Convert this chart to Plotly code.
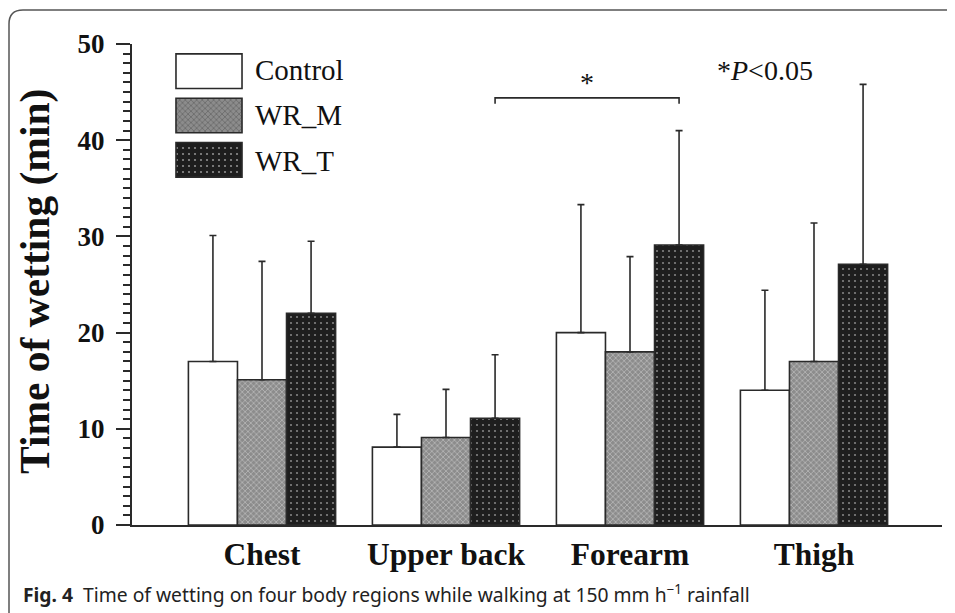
import plotly.graph_objects as go

categories = ["Chest", "Upper back", "Forearm", "Thigh"]
series_names = ["Control", "WR_M", "WR_T"]
control_mean = [17.0, 8.1, 20.0, 14.0]
control_err = [13.1, 3.4, 13.3, 10.4]
wrm_mean = [15.1, 9.1, 18.0, 17.0]
wrm_err = [12.3, 5.0, 9.9, 14.4]
wrt_mean = [22.0, 11.1, 29.1, 27.1]
wrt_err = [7.5, 6.6, 11.9, 18.7]
y_major_ticks = [0, 10, 20, 30, 40, 50]
y_mid_ticks = [5, 15, 25, 35, 45]

SERIF = "Liberation Serif, Times New Roman, serif"
LINE = "#2a2a2a"

styles = {
    "Control": dict(color="white", pattern=None),
    "WR_M": dict(color="#9a9a9a", pattern=dict(shape="x", fgcolor="#e8e8e8", bgcolor="#8c8c8c", size=4, solidity=0.35)),
    "WR_T": dict(color="#1e1e1e", pattern=dict(shape=".", fgcolor="#e6e6e6", bgcolor="#1e1e1e", size=6, solidity=0.1)),
}

xs = list(range(len(categories)))
fig = go.Figure()
for name, mean, err in [("Control", control_mean, control_err),
                        ("WR_M", wrm_mean, wrm_err),
                        ("WR_T", wrt_mean, wrt_err)]:
    st = styles[name]
    marker = dict(color=st["color"], line=dict(color=LINE, width=1.6))
    if st["pattern"]:
        marker["pattern"] = st["pattern"]
    fig.add_trace(go.Bar(
        x=xs, y=mean, name=name, marker=marker, showlegend=False,
        error_y=dict(type="data", symmetric=False, array=err,
                     arrayminus=[0] * len(err), color=LINE, thickness=1.6, width=3.5),
    ))

# Legend swatches (drawn as bars on an auxiliary axis)
fig.add_trace(go.Bar(
    x=[1, 1, 1], y=series_names, orientation="h", width=0.78,
    xaxis="x2", yaxis="y2", showlegend=False, hoverinfo="skip",
    marker=dict(
        color=["white", "#8c8c8c", "#1e1e1e"],
        line=dict(color=LINE, width=1.6),
        pattern=dict(shape=["", "x", "."],
                     fgcolor=["white", "#e8e8e8", "#e6e6e6"],
                     bgcolor=["white", "#8c8c8c", "#1e1e1e"],
                     size=[4, 4, 6], solidity=[0.3, 0.35, 0.1]),
    ),
))

# Plot area on screen: x 132..942 px, y 44..525 px (page body adds an 8px offset)
def px(x):
    return (x - 132) / 810.0

def py(y):
    return (525 - y) / 481.0

annotations = []
legend_y = [70, 115, 161]
for nm, yy in zip(series_names, legend_y):
    annotations.append(dict(xref="paper", yref="paper", x=px(253), y=py(yy), text=nm,
                            showarrow=False, xanchor="left", yanchor="middle",
                            font=dict(family=SERIF, size=29, color="#111")))

# y-axis title
annotations.append(dict(xref="paper", yref="paper", x=px(35), y=py(282),
                        text="<b>Time of wetting (min)</b>", textangle=-90, showarrow=False,
                        xanchor="center", yanchor="middle",
                        font=dict(family=SERIF, size=41.5, color="#111")))

# significance bracket between Upper back WR_T and Forearm WR_T
off = 0.8 / 3
xb0, xb1 = 1 + off, 2 + off
yb, ytick = 44.4, 43.8
shapes = [
    dict(type="path", xref="x", yref="y",
         path=f"M {xb0},{ytick} L {xb0},{yb} L {xb1},{yb} L {xb1},{ytick}",
         line=dict(color=LINE, width=1.6)),
]
annotations.append(dict(xref="x", yref="y", x=(xb0 + xb1) / 2, y=46.0, text="*",
                        showarrow=False, font=dict(family=SERIF, size=28, color="#111")))
annotations.append(dict(xref="paper", yref="paper", x=px(715), y=py(70),
                        text="*<i>P</i>&lt;0.05", showarrow=False, xanchor="left",
                        yanchor="middle", font=dict(family=SERIF, size=28, color="#111")))

# Figure caption
annotations.append(dict(xref="paper", yref="paper", x=px(21), y=py(594),
                        text="<b>Fig. 4</b>  Time of wetting on four body regions while walking at 150 mm h<sup>\u22121</sup> rainfall",
                        showarrow=False, xanchor="left", yanchor="middle",
                        font=dict(family="Noto Sans, Open Sans, sans-serif", size=19.3, color="#222")))

# outer rounded frame (top-left corner visible)
fx0, fy0, fx1, fy1 = px(9), py(10), px(970), py(625)
rx, ry = 14 / 810.0, 14 / 481.0
shapes.append(dict(type="path", xref="paper", yref="paper",
                   path=f"M {fx0},{fy1} L {fx0},{fy0 - ry} Q {fx0},{fy0} {fx0 + rx},{fy0} L {fx1},{fy0}",
                   line=dict(color="#555", width=1.5)))

fig.update_layout(
    width=955, height=613,
    margin=dict(l=124, r=21, t=36, b=96),
    paper_bgcolor="white", plot_bgcolor="white",
    barmode="group", bargap=0.2, bargroupgap=0,
    showlegend=False,
    xaxis=dict(range=[-(262 - 132) / 184.0, (942 - 262) / 184.0],
               tickvals=xs, ticktext=categories, showgrid=False, zeroline=False,
               showline=True, linecolor=LINE, linewidth=2, ticks="",
               tickfont=dict(family=SERIF, size=31.5, color="#111", weight="bold"),
               ticklabelstandoff=0),
    yaxis=dict(range=[0, 50], tickvals=y_major_ticks,
               showgrid=False, zeroline=False, showline=True, linecolor=LINE, linewidth=2,
               ticks="outside", ticklen=14, tickwidth=1.8, tickcolor=LINE,
               minor=dict(dtick=1, ticks="outside", ticklen=7, tickwidth=1.5, tickcolor=LINE, showgrid=False),
               tickfont=dict(family=SERIF, size=27, color="#111", weight="bold"),
               ticklabelstandoff=6),
    yaxis3=dict(range=[0, 50], overlaying="y", anchor="x", side="left",
                tickvals=y_mid_ticks, ticks="outside", ticklen=14, tickwidth=1.8,
                tickcolor=LINE, showticklabels=False, showgrid=False, zeroline=False,
                showline=False, fixedrange=True),
    xaxis2=dict(domain=[px(174), px(244)], range=[-0.03, 1.03], anchor="y2",
                visible=False, fixedrange=True),
    yaxis2=dict(domain=[py(182), py(49)], range=[2.5, -0.5], anchor="x2",
                visible=False, fixedrange=True, type="category",
                categoryorder="array", categoryarray=series_names),
    shapes=shapes,
    annotations=annotations,
)

fig.write_html("out.html")
